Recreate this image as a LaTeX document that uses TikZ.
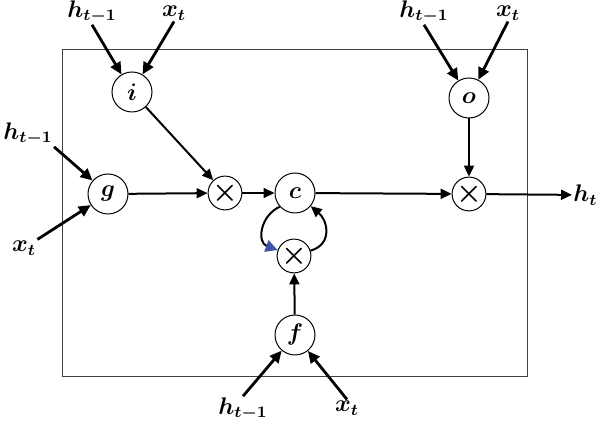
\documentclass[tikz,border=0pt]{standalone}
\usepackage{tikz}
\usepackage{xcolor}
\usetikzlibrary{arrows.meta}
\definecolor{loopblue}{RGB}{62,82,170}

\begin{document}
\begin{tikzpicture}[x=0.5pt,y=-0.5pt]
\tikzset{gate/.style={draw,circle,line width=0.5pt,minimum size=20pt,inner sep=0pt}}
\tikzset{mult/.style={draw,circle,line width=0.5pt,minimum size=14pt,inner sep=0pt,font=\Large}}
\tikzset{lbl/.style={inner sep=0.5pt}}
\tikzset{arr/.style={line width=1pt,-{Triangle[length=5.5pt,width=5pt]}}}
\tikzset{inarr/.style={line width=1.4pt,-{Triangle[length=6pt,width=5.5pt]}}}

\large\boldmath

\useasboundingbox (0,0) rectangle (600,421);
\draw[line width=0.5pt,black!75] (62,50) rectangle (527,377);

\node[gate] (i) at (132,92) {$i$};
\node[gate] (g) at (108,194) {$g$};
\node[gate] (c) at (295,193) {$c$};
\node[gate] (o) at (469,98) {$o$};
\node[gate] (f) at (295,335) {$f$};
\node[mult] (m1) at (225,193) {$\times$};
\node[mult] (m2) at (469,194) {$\times$};
\node[mult] (m3) at (294,256) {$\times$};

\node[lbl] (hi) at (92,12) {$h_{t-1}$};
\node[lbl] (xi) at (174,13) {$x_t$};
\node[lbl] (ho) at (424,12) {$h_{t-1}$};
\node[lbl] (xo) at (508,13) {$x_t$};
\node[lbl,anchor=west] (hg) at (2,134) {$h_{t-1}$};
\node[lbl] (xg) at (24,248) {$x_t$};
\node[lbl] (hf) at (243,409) {$h_{t-1}$};
\node[lbl] (xf) at (347,408) {$x_t$};
\node[lbl,anchor=east] (ht) at (599,195) {$h_t$};

\draw[inarr] (hi.south) -- (i);
\draw[inarr] (xi.south) -- (i);
\draw[inarr] (ho.south) -- (o);
\draw[inarr] (xo.south) -- (o);
\draw[inarr] (hg.south east) -- (g);
\draw[inarr] (xg.north east) -- (g);
\draw[inarr] (hf.north) -- (f);
\draw[inarr] (xf.north) -- (f);

\draw[arr] (i) -- (m1);
\draw[arr] (g) -- (m1);
\draw[arr] (m1) -- (c);
\draw[arr] (c) -- (m2);
\draw[arr] (o) -- (m2);
\draw[arr] (m2) -- (ht);
\draw[arr] (f) -- (m3);
\draw[line width=1pt,-{Triangle[length=6pt,width=6pt,color=loopblue]}] (c.222) to[out=205,in=160,looseness=1.3] (m3.160);
\draw[arr] (m3.18) to[out=15,in=-40,looseness=1.3] (c.-40);

\end{tikzpicture}
\end{document}
